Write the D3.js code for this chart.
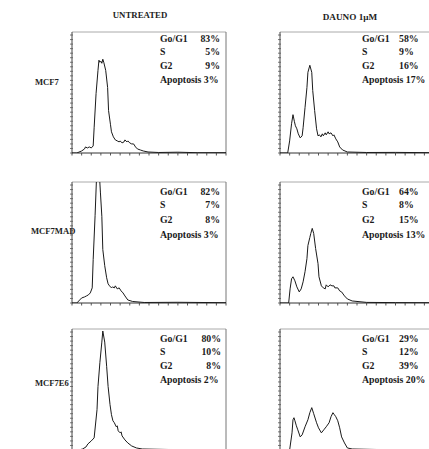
<!DOCTYPE html>
<html><head><meta charset="utf-8">
<script src="https://cdn.jsdelivr.net/npm/d3@7"></script>
<style>body{margin:0;background:#fff}svg{display:block}</style>
</head><body><svg id="c" width="429" height="449"></svg>
<script>
// ---- data ----
const conditions = ["UNTREATED", "DAUNO 1\u00b5M"];
const cellLines = ["MCF7", "MCF7MAD", "MCF7E6"];
const phaseLabels = ["Go/G1", "S", "G2"];
const pctMCF7 = [[83, 5, 9], [58, 9, 16]];
const pctMCF7MAD = [[82, 7, 8], [64, 8, 15]];
const pctMCF7E6 = [[80, 10, 8], [29, 12, 39]];
const apoptosisPct = [[3, 17], [3, 13], [2, 20]];

// DNA content histograms: [channel, count]
const histMCF7Untreated = [[0,0],[5,0],[10,2],[13,4],[14,6],[16,5],[18,6],[20,5],[22,7],[23,25],[25,59],[27,82],[28,92],[29,90],[30,91],[31,89],[32,93],[33,90],[35,82],[37,65],[38,42],[40,28],[41,21],[43,16],[45,13],[47,12],[49,11],[50,12],[52,10],[54,11],[55,13],[57,11],[58,12],[60,10],[62,9],[64,9],[66,6],[68,4],[71,3],[74,2],[79,1],[90,0.5],[110,0.8],[130,0.3],[160,0.3]];
const histMCF7Dauno = [[0,0],[8,0],[10,12],[12,29],[13.5,38],[15,31],[16,27],[17.5,24],[19,19],[21,15],[23,17],[24,25],[26,45],[28,65],[29,80],[31,87],[33,80],[34,62],[36,42],[38,24],[39.5,17],[41,18],[42.5,16],[44,19],[45,17],[47,20],[48,18],[50,21],[51,19],[53,20],[55,17],[56,18],[58,14],[60,11],[62,6],[65,3],[70,1],[90,0.5],[120,0.6],[160,0.3]];
const histMCF7MADUntreated = [[0,0],[5,0],[8,3],[10,5],[13,6],[15,7],[17,8],[19,10],[21,15],[22,43],[24,87],[25.5,125],[28,135],[29.5,110],[31,86],[32,53],[34,37],[36,25],[37.5,19],[39,17],[41,15],[42,16],[44,15],[45,17],[47,14],[49,15],[51,12],[53,10],[55,7],[58,3],[63,1.5],[75,0.5],[110,0.7],[160,0.3]];
const histMCF7MADDauno = [[0,0],[9,0],[10.5,14],[12,24],[13.5,26],[15.5,22],[17.5,16],[20,11],[22,14],[24,21],[26,31],[28,44],[29,57],[31,65],[32,69],[33.5,74],[35,69],[37,54],[39.5,39],[40.5,26],[43,17],[45,15],[47,14],[48,18],[50,16],[52,18],[54,17],[56,17],[57,15],[60,15],[62,12],[64,11],[67,7],[70,4],[75,2],[90,0.6],[120,0.4],[160,0.3]];
const histMCF7E6Untreated = [[0,0],[7,0],[11,1],[14.5,3],[16.5,6],[20,9],[23,12],[26,40],[27,63],[29,87],[31,107],[32,118],[34,107],[36,83],[37.5,63],[39.5,45],[41,35],[42.5,29],[44,27],[46,23],[47,24],[48,19],[50,17],[51,18],[52,14],[55,10],[58,7],[62,4],[67,2],[73,1],[100,0.5],[160,0.3]];
const histMCF7E6Dauno = [[0,0],[10,0],[12.5,17],[13.5,30],[14.5,32],[15.5,29],[17,24],[18.5,20],[21,13],[23,15],[26,23],[29,30],[31,37],[33,42],[35,36],[38,27],[40,22],[43,17],[45.5,20],[48,23],[51,27],[53,33],[55,37],[56.5,35],[58,33],[60,29],[62,22],[64,13],[67,7],[70,2],[75,1],[100,0.5],[160,0.3]];

const histograms = [
  [histMCF7Untreated, histMCF7Dauno],
  [histMCF7MADUntreated, histMCF7MADDauno],
  [histMCF7E6Untreated, histMCF7E6Dauno]
];
const pcts = [pctMCF7, pctMCF7MAD, pctMCF7E6];

// ---- layout ----
const svg = d3.select("#c");
const colX = [72, 280];
const rowTop = [32, 182, 329];
const boxW = 154, boxH = 121;
const font = "'Liberation Serif','Times New Roman',serif";
const statBase = [[9.5, 22.5, 36.5, 51], [13, 25.5, 41, 55.5], [12.5, 25.5, 39.5, 54]];
const valRight = [220, 220, 221];
const labelX = [88, 82];
const rightValX = 119;
const rowLabel = [{x: 35, y: 85}, {x: 31, y: 234}, {x: 35, y: 386}];

const x = d3.scaleLinear().domain([0, 160]).range([0, boxW]);
const y = d3.scaleLinear().domain([0, 120]).range([boxH, 0]);
const line = d3.line().x(d => x(d[0])).y(d => y(d[1]));

// titles
svg.append("text").attr("x", 140).attr("y", 17.5).attr("text-anchor", "middle")
  .attr("font-family", font).attr("font-weight", "bold").attr("font-size", 8.8)
  .attr("fill", "#222").text(conditions[0]);
svg.append("text").attr("x", 350).attr("y", 20).attr("text-anchor", "middle")
  .attr("font-family", font).attr("font-weight", "bold").attr("font-size", 9.2)
  .attr("fill", "#222").text(conditions[1]);

cellLines.forEach((name, r) => {
  svg.append("text").attr("x", rowLabel[r].x).attr("y", rowLabel[r].y)
    .attr("font-family", font).attr("font-weight", "bold").attr("font-size", 8.6)
    .attr("fill", "#222").text(name);

  [0, 1].forEach(c => {
    const g = svg.append("g").attr("transform", `translate(${colX[c]},${rowTop[r]})`);
    const cid = `clip${r}${c}`;
    g.append("clipPath").attr("id", cid).append("rect")
      .attr("x", 0).attr("y", 0).attr("width", boxW).attr("height", boxH);

    // frame
    g.append("line").attr("x1", 0).attr("x2", boxW).attr("y1", 0).attr("y2", 0)
      .attr("stroke", "#aaa").attr("stroke-width", 1);
    g.append("line").attr("x1", boxW).attr("x2", boxW).attr("y1", 0).attr("y2", boxH)
      .attr("stroke", "#777").attr("stroke-width", 1);
    g.append("line").attr("x1", 0).attr("x2", 0).attr("y1", 0).attr("y2", boxH)
      .attr("stroke", "#444").attr("stroke-width", 1);
    g.append("line").attr("x1", 0).attr("x2", boxW).attr("y1", boxH).attr("y2", boxH)
      .attr("stroke", "#333").attr("stroke-width", 1);

    // ticks
    g.selectAll(".yt").data(d3.range(0, 121, 4.5)).enter().append("line")
      .attr("x1", -2).attr("x2", 1).attr("y1", d => y(d)).attr("y2", d => y(d))
      .attr("stroke", "#555").attr("stroke-width", 0.8);
    g.selectAll(".xt").data(d3.range(0, 161, 10)).enter().append("line")
      .attr("x1", d => x(d)).attr("x2", d => x(d)).attr("y1", boxH).attr("y2", boxH + 2.5)
      .attr("stroke", "#444").attr("stroke-width", 0.9);

    // histogram
    g.append("path").datum(histograms[r][c]).attr("d", line)
      .attr("clip-path", `url(#${cid})`)
      .attr("fill", "none").attr("stroke", "#1a1a1a").attr("stroke-width", 1)
      .attr("stroke-linejoin", "round");

    // stats
    const t = g.append("g").attr("font-family", font).attr("font-weight", "bold")
      .attr("font-size", 9.8).attr("fill", "#1a1a1a");
    phaseLabels.forEach((p, i) => {
      t.append("text").attr("x", labelX[c]).attr("y", statBase[r][i]).text(p);
      if (c === 0) {
        t.append("text").attr("x", valRight[r] - colX[0]).attr("y", statBase[r][i])
          .attr("text-anchor", "end").text(pcts[r][c][i] + "%");
      } else {
        t.append("text").attr("x", rightValX).attr("y", statBase[r][i])
          .text(pcts[r][c][i] + "%");
      }
    });
    t.append("text").attr("x", labelX[c]).attr("y", statBase[r][3])
      .text("Apoptosis " + apoptosisPct[r][c] + "%");
  });
});
</script></body></html>
